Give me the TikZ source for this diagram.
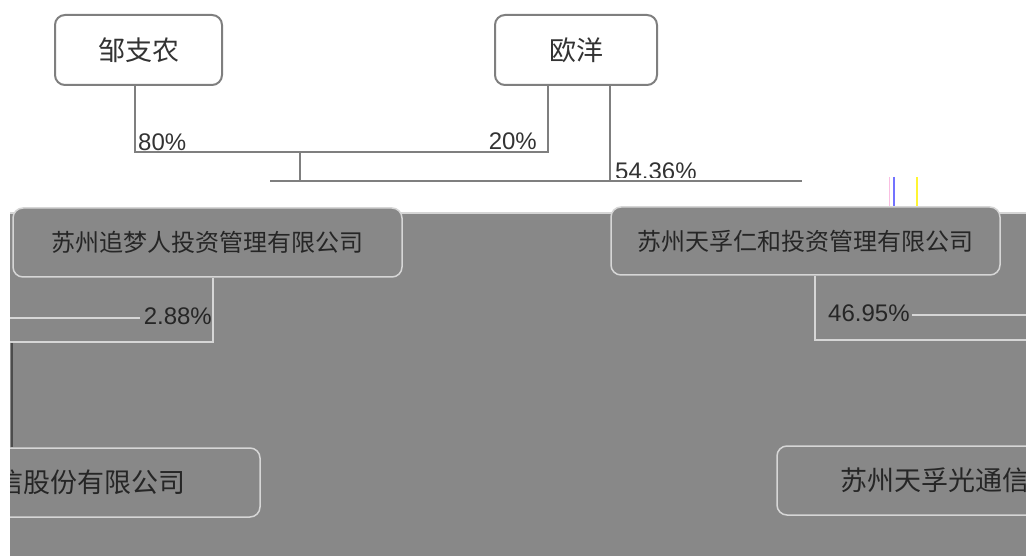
\documentclass[tikz,border=0pt]{standalone}
\usepackage{fontspec}
\setmainfont{Liberation Sans}
\newfontfamily\cjk{Noto Sans CJK SC}
\definecolor{bgray}{HTML}{888888}
\definecolor{lline}{HTML}{D6D6D6}
\definecolor{wline}{HTML}{7F7F7F}
\definecolor{tdark}{HTML}{333333}
\definecolor{gtext}{HTML}{262626}
\tikzset{
  personbox/.style={draw=wline, line width=2pt, fill=white, rounded corners=10pt,
    inner sep=0pt, text=tdark, font=\cjk\fontsize{27pt}{27pt}\selectfont},
  compbox/.style={draw=lline, line width=1.5pt, fill=bgray, rounded corners=10pt,
    inner sep=0pt, text=gtext, font=\cjk\fontsize{24pt}{24pt}\selectfont},
  bigbox/.style={compbox, font=\cjk\fontsize{27pt}{27pt}\selectfont},
  wconn/.style={draw=wline, line width=2pt},
  gconn/.style={draw=lline, line width=1.5pt},
  dconn/.style={draw=black!70, line width=1.5pt},
  pct/.style={inner sep=0pt, font=\fontsize{24pt}{24pt}\selectfont},
}
\begin{document}
\begin{tikzpicture}[x=1pt,y=-1pt]
\useasboundingbox (0,0) rectangle (1026,556);
\clip (0,0) rectangle (1026,556);
% white part
\node[personbox, minimum width=167pt, minimum height=70pt] (zou) at (138.5,50) {邹支农};
\node[personbox, minimum width=162pt, minimum height=70pt] (ou) at (576,50) {欧洋};
\coordinate (j1) at (548,152);
\coordinate (j2) at (300,152);
\coordinate (j3) at (300,181);
\coordinate (h1) at (270,181);
\coordinate (h2) at (802,181);
\coordinate (k1) at (610,181);
\draw[wconn] ([xshift=-3.5pt]zou.south) |- (j1) -- ([xshift=-28pt]ou.south);
\draw[wconn] (j2) -- (j3);
\node[pct, text=tdark, anchor=base west] (p80) at (138,151) {80\%};
\node[pct, text=tdark, anchor=base east] (p20) at (537,150) {20\%};
\begin{scope}
\clip (600,150) rectangle (720,177.5);
\node[pct, text=tdark, anchor=base west] (p54) at (615,180) {54.36\%};
\end{scope}
\draw[wconn] (h1) -- (h2);
\draw[wconn] ([xshift=34pt]ou.south) -- (k1);
% artifact lines
\coordinate (a1) at (889.5,177);
\coordinate (a2) at (889.5,207);
\coordinate (b1) at (894,177);
\coordinate (b2) at (894,207);
\coordinate (c1) at (917,177);
\coordinate (c2) at (917,207);
\draw[draw=magenta!25, line width=1.5pt] (a1) -- (a2);
\draw[draw=blue!55, line width=1.5pt] (b1) -- (b2);
\draw[draw=yellow!80, line width=1.5pt] (c1) -- (c2);
% gray part
\fill[bgray] (10,212) rectangle (1026,556);
\draw[gconn] (10,213) -- (1026,213);
\begin{scope}
\clip (10,200) rectangle (1026,556);
\node[compbox, minimum width=389pt, minimum height=69pt] (zm) at (207.5,242.5) {苏州追梦人投资管理有限公司};
\node[compbox, minimum width=389pt, minimum height=68pt] (tf) at (805.5,241) {苏州天孚仁和投资管理有限公司};
\node[bigbox, minimum width=500pt, minimum height=69pt] (bl) at (10,482.5) {苏州天孚光通信股份有限公司};
\node[bigbox, minimum width=477pt, minimum height=69pt] (br) at (1015.5,480.5) {苏州天孚光通信股份有限公司};
\coordinate (l1) at (213,342);
\coordinate (l2) at (10,342);
\coordinate (l3) at (10,318);
\coordinate (l4) at (140,318);
\coordinate (m1) at (12,343);
\coordinate (r1) at (815,340);
\coordinate (r2) at (1026,340);
\coordinate (r3) at (912,315);
\coordinate (r4) at (1026,315);
\draw[gconn] (zm.south -| l1) -- (l1) -- (l2);
\draw[gconn] (l3) -- (l4);
\node[pct, text=gtext, anchor=base east] (p288) at (212,324) {2.88\%};
\draw[dconn] (m1) -- (bl.north -| m1);
\draw[gconn] (tf.south -| r1) -- (r1) -- (r2);
\node[pct, text=gtext, anchor=base west] (p4695) at (828,321) {46.95\%};
\draw[gconn] (r3) -- (r4);
\end{scope}
\end{tikzpicture}
\end{document}
